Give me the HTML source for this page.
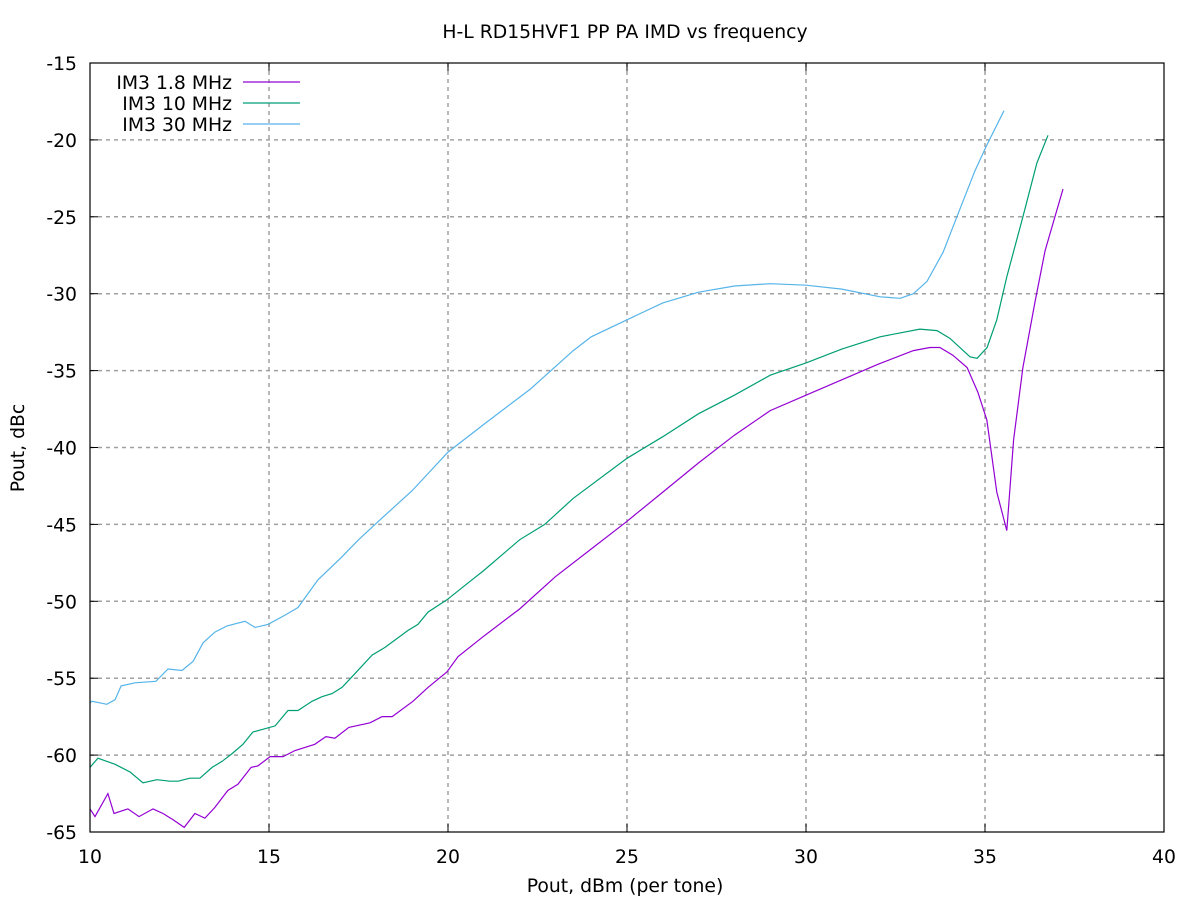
<!DOCTYPE html>
<html><head><meta charset="utf-8"><style>
body{margin:0;background:#fff}
svg{display:block;font-family:"DejaVu Sans","Liberation Sans",sans-serif}
</style></head><body>
<svg id="chart" width="1200" height="900" viewBox="0 0 1200 900" xmlns="http://www.w3.org/2000/svg">
<text x="625" y="38" font-size="18.8" text-anchor="middle">H-L RD15HVF1 PP PA IMD vs frequency</text>
<text x="625" y="892" font-size="18.8" text-anchor="middle">Pout, dBm (per tone)</text>
<text transform="translate(24,448) rotate(-90)" font-size="18.8" text-anchor="middle">Pout, dBc</text>
<g id="grid"></g>
<g id="ticks"></g>
<g id="series"></g>
<rect x="90" y="63" width="1074" height="769" fill="none" stroke="#000" stroke-width="1.2"/>
<g id="legend"></g>
</svg>
<script>
const xTicks=[10,15,20,25,30,35,40];
const yTicks=[-15,-20,-25,-30,-35,-40,-45,-50,-55,-60,-65];
const names=["IM3 1.8 MHz","IM3 10 MHz","IM3 30 MHz"];
const colors=["#9400d3","#009e73","#56b4e9"];
const x18=[10,10.14,10.5,10.67,11.06,11.37,11.76,12.04,12.32,12.63,12.93,13.21,13.49,13.85,14.13,14.5,14.69,15.03,15.39,15.73,16.28,16.59,16.84,17.23,17.82,18.16,18.44,19.02,19.44,19.97,20.28,20.98,22,23,24,25,26,27,28,29,30,31,32,33,33.46,33.74,34.1,34.5,34.8,35.05,35.33,35.61,35.8,36.06,36.4,36.68,37.18];
const y18=[-63.5,-64,-62.5,-63.8,-63.5,-64,-63.5,-63.8,-64.2,-64.7,-63.8,-64.1,-63.4,-62.3,-61.9,-60.8,-60.7,-60.1,-60.1,-59.7,-59.3,-58.8,-58.9,-58.2,-57.9,-57.5,-57.5,-56.5,-55.6,-54.6,-53.6,-52.3,-50.5,-48.4,-46.6,-44.8,-42.9,-41,-39.2,-37.6,-36.6,-35.6,-34.6,-33.7,-33.5,-33.5,-34,-34.8,-36.4,-38.2,-42.9,-45.4,-39.5,-34.8,-30.5,-27.2,-23.2];
const x10=[10,10.22,10.7,11.12,11.48,11.87,12.23,12.46,12.79,13.07,13.41,13.69,13.97,14.27,14.55,15.17,15.53,15.81,16.2,16.48,16.76,17.04,17.32,17.88,18.24,18.88,19.16,19.44,19.97,20.67,21,22,22.7,23.5,25,26,27,28,29,30,31,32.07,33.18,33.66,34.02,34.58,34.78,35.06,35.33,35.61,36.06,36.45,36.76];
const y10=[-60.8,-60.2,-60.6,-61.1,-61.8,-61.6,-61.7,-61.7,-61.5,-61.5,-60.8,-60.4,-59.9,-59.3,-58.5,-58.1,-57.1,-57.1,-56.5,-56.2,-56,-55.6,-54.9,-53.5,-53,-51.9,-51.5,-50.7,-49.9,-48.6,-48,-46,-45,-43.3,-40.7,-39.3,-37.8,-36.6,-35.3,-34.5,-33.6,-32.8,-32.3,-32.4,-32.9,-34.1,-34.2,-33.5,-31.7,-28.9,-25,-21.5,-19.7];
const x30=[10,10.06,10.47,10.7,10.87,11.26,11.84,12.18,12.57,12.88,13.16,13.49,13.83,14.33,14.61,14.97,15.45,15.81,16.37,17,17.5,17.96,19,20,21,22.3,23.5,24,25,26,27,28,29,30,31,32.07,32.63,33,33.38,33.83,34.25,34.72,35.06,35.53];
const y30=[-56.6,-56.5,-56.7,-56.4,-55.5,-55.3,-55.2,-54.4,-54.5,-53.9,-52.7,-52,-51.6,-51.3,-51.7,-51.5,-50.9,-50.4,-48.6,-47.2,-46,-45,-42.8,-40.3,-38.5,-36.2,-33.7,-32.8,-31.7,-30.6,-29.9,-29.5,-29.35,-29.45,-29.7,-30.2,-30.3,-30,-29.2,-27.3,-24.8,-22,-20.3,-18.1];
const NS="http://www.w3.org/2000/svg";
const X=v=>90+(v-10)*(1074/30);
const Y=v=>63+(-15-v)*(769/50);
function mk(t,a,p){const e=document.createElementNS(NS,t);for(const k in a)e.setAttribute(k,a[k]);p.appendChild(e);return e;}
const grid=document.getElementById('grid'),ticks=document.getElementById('ticks');
xTicks.forEach(v=>{
  if(v>10&&v<40){const l=mk('line',{x1:X(v),x2:X(v),y1:63,y2:832,stroke:'#a0a0a0','stroke-width':1.5,'stroke-dasharray':'4,4'},grid);
  
  }
  const t=mk('text',{x:X(v),y:863,'font-size':18.8,'text-anchor':'middle'},ticks);t.textContent=v;
  
  
  mk('line',{x1:X(v),x2:X(v),y1:832,y2:824,stroke:'#000'},ticks);
  mk('line',{x1:X(v),x2:X(v),y1:63,y2:71,stroke:'#000'},ticks);
});
yTicks.forEach(v=>{
  if(v<-15&&v>-65){const l=mk('line',{x1:90,x2:1164,y1:Y(v),y2:Y(v),stroke:'#a0a0a0','stroke-width':1.5,'stroke-dasharray':'4,4'},grid);
  
  }
  const t=mk('text',{x:77,y:Y(v)+7,'font-size':18.8,'text-anchor':'end'},ticks);t.textContent=v;
  
  
  mk('line',{x1:90,x2:98,y1:Y(v),y2:Y(v),stroke:'#000'},ticks);
  mk('line',{x1:1164,x2:1156,y1:Y(v),y2:Y(v),stroke:'#000'},ticks);
});
const S=[[x18,y18],[x10,y10],[x30,y30]];
const ser=document.getElementById('series'),leg=document.getElementById('legend');
S.forEach((s,i)=>{
  const d=s[0].map((v,j)=>(j?'L':'M')+X(v).toFixed(1)+','+Y(s[1][j]).toFixed(1)).join('');
  const p=mk('path',{d:d,fill:'none',stroke:colors[i],'stroke-width':1.2},ser);
  
  
  const ly=82+i*21;
  const t=mk('text',{x:232,y:ly+7,'font-size':18.8,'text-anchor':'end'},leg);t.textContent=names[i];
  
  
  const l=mk('line',{x1:243,x2:300,y1:ly,y2:ly,stroke:colors[i],'stroke-width':1.2},leg);
  
  
});
</script>
</body></html>
